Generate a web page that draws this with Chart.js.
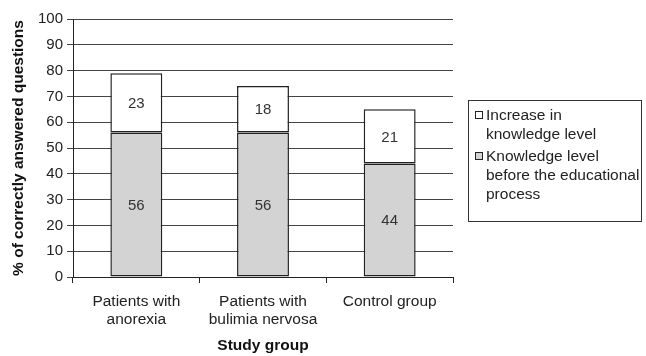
<!DOCTYPE html>
<html>
<head>
<meta charset="utf-8">
<script src="https://cdn.jsdelivr.net/npm/chart.js@4.4.1/dist/chart.umd.min.js"></script>
<style>
  html, body { margin: 0; padding: 0; background: #fff; }
  #wrap { width: 646px; height: 356px; position: relative; }
</style>
</head>
<body>
<div id="wrap"><canvas id="c" width="646" height="356"></canvas></div>
<script>
const categories = [["Patients with", "anorexia"], ["Patients with", "bulimia nervosa"], ["Control group"]];
const beforeValues = [56, 56, 44];
const increaseValues = [23, 18, 21];
const yTicks = [0, 10, 20, 30, 40, 50, 60, 70, 80, 90, 100];
const legendIncrease = ["Increase in", "knowledge level"];
const legendBefore = ["Knowledge level", "before the educational", "process"];

const FONT = "'Liberation Sans', Arial, sans-serif";

const valueLabels = {
  id: 'valueLabels',
  afterDatasetsDraw(chart) {
    const ctx = chart.ctx;
    ctx.save();
    ctx.font = "15px " + FONT;
    ctx.fillStyle = "#333";
    ctx.textAlign = "center";
    ctx.textBaseline = "middle";
    chart.data.datasets.forEach((ds, di) => {
      const meta = chart.getDatasetMeta(di);
      meta.data.forEach((bar, i) => {
        const top = Math.min(bar.y, bar.base), bot = Math.max(bar.y, bar.base);
        ctx.fillText(String(ds.data[i]), bar.x, (top + bot) / 2 + 1);
      });
    });
    ctx.restore();
  }
};

const boxLegend = {
  id: 'boxLegend',
  afterDraw(chart) {
    const ctx = chart.ctx;
    const ca = chart.chartArea;
    const x0 = ca.right + 15, y0 = 100, w = 173, h = 121;
    ctx.save();
    ctx.strokeStyle = "#333";
    ctx.lineWidth = 1;
    ctx.strokeRect(x0 + 0.5, y0 + 0.5, w, h);
    ctx.font = "15.5px " + FONT;
    ctx.textBaseline = "middle";
    ctx.textAlign = "left";
    const items = [
      { lines: legendIncrease, fill: "#ffffff" },
      { lines: legendBefore, fill: "#d3d3d3" }
    ];
    let y = y0 + 16;
    const lh = 19;
    items.forEach(it => {
      ctx.fillStyle = it.fill;
      ctx.fillRect(x0 + 7.5, y - 4.5, 7, 7);
      ctx.strokeStyle = "#222";
      ctx.strokeRect(x0 + 7.5, y - 4.5, 7, 7);
      ctx.fillStyle = "#222";
      it.lines.forEach((ln, k) => {
        ctx.fillText(ln, x0 + 18, y + k * lh);
      });
      y += it.lines.length * lh + 3;
    });
    ctx.restore();
  }
};

new Chart(document.getElementById('c'), {
  type: 'bar',
  data: {
    labels: categories,
    datasets: [
      {
        label: "Knowledge level before the educational process",
        data: beforeValues,
        backgroundColor: "#d3d3d3",
        borderColor: "#222",
        borderWidth: 1.5,
        borderSkipped: false,
        barPercentage: 0.41,
        categoryPercentage: 1.0
      },
      {
        label: "Increase in knowledge level",
        data: increaseValues,
        backgroundColor: "#ffffff",
        borderColor: "#222",
        borderWidth: 1.5,
        borderSkipped: false,
        barPercentage: 0.41,
        categoryPercentage: 1.0
      }
    ]
  },
  options: {
    responsive: false,
    animation: false,
    devicePixelRatio: 1,
    layout: { padding: { left: 9, right: 193, top: 19, bottom: 1 } },
    plugins: { legend: { display: false }, tooltip: { enabled: false } },
    scales: {
      x: {
        stacked: true,
        afterFit(s) { s.height = 78; },
        grid: { display: true, drawOnChartArea: false, drawTicks: true, tickLength: 6, color: "#222", offset: true },
        border: { display: true, color: "#222", width: 1 },
        ticks: { color: "#222", font: { family: FONT, size: 15.5, lineHeight: 1.15 }, padding: 10, maxRotation: 0, autoSkip: false },
        title: { display: true, text: "Study group", color: "#111", font: { family: FONT, size: 15.5, weight: 'bold' }, padding: { top: 4, bottom: 0 } }
      },
      y: {
        stacked: true,
        min: 0,
        max: 100,
        afterFit(s) { s.width = 64; },
        afterBuildTicks(s) { s.ticks = yTicks.map(v => ({ value: v })); },
        grid: { color: "#444", lineWidth: 1, drawTicks: true, tickLength: 6 },
        border: { display: true, color: "#222", width: 1 },
        ticks: { color: "#222", font: { family: FONT, size: 15 }, padding: 4 },
        title: { display: true, text: "% of correctly answered questions", color: "#111", font: { family: FONT, size: 15.5, weight: 'bold' }, padding: { top: 0, bottom: 4 } }
      }
    }
  },
  plugins: [valueLabels, boxLegend]
});
</script>
</body>
</html>
